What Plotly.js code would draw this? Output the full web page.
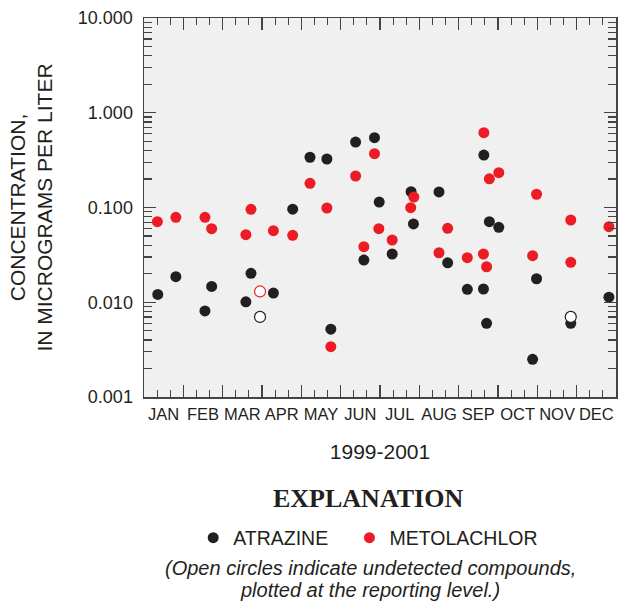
<!DOCTYPE html>
<html>
<head>
<meta charset="utf-8">
<script src="https://cdn.plot.ly/plotly-3.0.1.min.js"></script>
<style>html,body{margin:0;padding:0;background:#fff;}#chart{width:623px;height:605px;}</style>
</head>
<body>
<div id="chart"></div>
<script>
// Month positions (0 = start of January, 12 = end of December)
const months = ['JAN','FEB','MAR','APR','MAY','JUN','JUL','AUG','SEP','OCT','NOV','DEC'];
const monthCenters = [0.5,1.5,2.5,3.5,4.5,5.5,6.5,7.5,8.5,9.5,10.5,11.5];

// Atrazine, detected (filled)
const atrazineMonth = [0.35,0.81,1.55,1.72,2.59,2.72,3.29,3.78,4.22,4.65,4.75,5.38,5.59,5.86,5.98,6.31,6.79,6.85,7.50,7.72,8.22,8.63,8.64,8.71,8.78,9.02,9.88,9.98,10.85,11.82];
const atrazineConc  = [0.0121,0.0186,0.0081,0.0147,0.0101,0.0202,0.0125,0.096,0.339,0.325,0.0052,0.491,0.0279,0.545,0.114,0.0323,0.147,0.067,0.146,0.0261,0.0137,0.0138,0.358,0.0060,0.0708,0.0618,0.0025,0.0177,0.0060,0.0113];

// Metolachlor, detected (filled)
const metolachlorMonth = [0.34,0.81,1.55,1.72,2.59,2.72,3.29,3.78,4.22,4.65,4.75,5.38,5.59,5.86,5.97,6.31,6.78,6.86,7.50,7.72,8.22,8.64,8.63,8.71,8.78,9.02,9.88,9.98,10.85,10.85,11.82];
const metolachlorConc  = [0.0708,0.0788,0.0788,0.0597,0.0516,0.0957,0.0569,0.0509,0.180,0.0988,0.0034,0.215,0.0386,0.370,0.0597,0.0454,0.0995,0.129,0.0333,0.0603,0.0295,0.616,0.0323,0.0237,0.201,0.233,0.0310,0.138,0.0738,0.0264,0.0627];

// Undetected (open circles, plotted at reporting level)
const atrazineNDMonth = [2.95,10.85];
const atrazineNDConc  = [0.007,0.007];
const metolachlorNDMonth = [2.95];
const metolachlorNDConc  = [0.013];

// Axis ticks
const yTickVals = [0.001,0.01,0.1,1,10];
const yTickText = ['0.001','0.010','0.100','1.000','10.000'];
const yMinorVals = [];
[0.001,0.01,0.1,1].forEach(d => { for (let k = 2; k <= 9; k++) yMinorVals.push(d*k); });
const monthBounds = [0,1,2,3,4,5,6,7,8,9,10,11,12];
const thirdTicks = [];
for (let m = 0; m < 12; m++) { thirdTicks.push(m + 1/3, m + 2/3); }

const BLACK = '#231f20', RED = '#ed1c24', AXC = '#444444';
const FONT = 'Liberation Sans, Arial, Helvetica, sans-serif';
const NB = '\u00a0';

const traces = [
  {x: atrazineMonth, y: atrazineConc, type: 'scatter', mode: 'markers', name: 'ATRAZINE' + NB.repeat(3),
   marker: {color: BLACK, size: 11}, xaxis: 'x', yaxis: 'y', hoverinfo: 'skip'},
  {x: metolachlorMonth, y: metolachlorConc, type: 'scatter', mode: 'markers', name: 'METOLACHLOR',
   marker: {color: RED, size: 11}, xaxis: 'x', yaxis: 'y', hoverinfo: 'skip'},
  {x: atrazineNDMonth, y: atrazineNDConc, type: 'scatter', mode: 'markers', showlegend: false,
   marker: {color: '#ffffff', size: 11, line: {color: BLACK, width: 1.2}}, xaxis: 'x2', yaxis: 'y', hoverinfo: 'skip'},
  {x: metolachlorNDMonth, y: metolachlorNDConc, type: 'scatter', mode: 'markers', showlegend: false,
   marker: {color: '#ffffff', size: 11, line: {color: RED, width: 1.2}}, xaxis: 'x2', yaxis: 'y', hoverinfo: 'skip'}
];

const layout = {
  width: 623, height: 605,
  margin: {l: 144, r: 7, t: 18, b: 208},
  paper_bgcolor: '#ffffff',
  plot_bgcolor: '#f0f0f0',
  font: {family: FONT, color: '#231f20'},
  showlegend: true,
  legend: {orientation: 'h', x: 0.475, xanchor: 'center', y: -0.372, yanchor: 'middle', itemwidth: 30,
           font: {size: 19.5, family: FONT, color: '#231f20'}, bgcolor: 'rgba(0,0,0,0)'},
  xaxis: {
    range: [0, 12], tickmode: 'array', tickvals: monthCenters, ticktext: months,
    ticks: '', showline: true, mirror: true, linecolor: AXC, linewidth: 1.5,
    showgrid: false, zeroline: false, tickfont: {size: 16.5, family: FONT}, ticklabelstandoff: 2,
    title: {text: '1999-2001', font: {size: 21, family: FONT}, standoff: 22}
  },
  xaxis2: {
    overlaying: 'x', anchor: 'y', side: 'bottom', range: [0, 12],
    tickmode: 'array', tickvals: monthBounds, ticks: 'inside', ticklen: 12, tickwidth: 1.2, tickcolor: AXC,
    showticklabels: false, showgrid: false, zeroline: false, showline: false, mirror: 'ticks',
    minor: {tickmode: 'array', tickvals: thirdTicks, ticks: 'inside', ticklen: 7, tickwidth: 1.2, tickcolor: AXC, showgrid: false}
  },
  yaxis: {
    type: 'log', range: [-3, 1], tickmode: 'array', tickvals: yTickVals, ticktext: yTickText,
    ticks: 'inside', ticklen: 12, tickwidth: 1.2, tickcolor: AXC,
    showline: true, mirror: 'ticks', linecolor: AXC, linewidth: 1.5,
    showgrid: false, zeroline: false, tickfont: {size: 18, family: FONT}, ticklabelstandoff: 6,
    minor: {tickmode: 'array', tickvals: yMinorVals, ticks: 'inside', ticklen: 8, tickwidth: 1.2, tickcolor: AXC, showgrid: false},
    title: {text: 'CONCENTRATION,<br>IN MICROGRAMS PER LITER', font: {size: 21, family: FONT}, standoff: 19}
  },
  annotations: [
    {text: '<b>EXPLANATION</b>', xref: 'paper', yref: 'paper', x: 0.4746, y: -0.2665,
     xanchor: 'center', yanchor: 'middle', showarrow: false,
     font: {family: 'Liberation Serif, Times New Roman, serif', size: 26, color: '#231f20'}},
    {text: '<i>(Open circles indicate undetected compounds,</i>', xref: 'paper', yref: 'paper', x: 0.479, y: -0.450,
     xanchor: 'center', yanchor: 'middle', showarrow: false, font: {size: 20, family: FONT, color: '#231f20'}},
    {text: '<i>plotted at the reporting level.)</i>', xref: 'paper', yref: 'paper', x: 0.479, y: -0.510,
     xanchor: 'center', yanchor: 'middle', showarrow: false, font: {size: 20, family: FONT, color: '#231f20'}}
  ]
};

Plotly.newPlot('chart', traces, layout, {displayModeBar: false, staticPlot: true});
</script>
</body>
</html>
